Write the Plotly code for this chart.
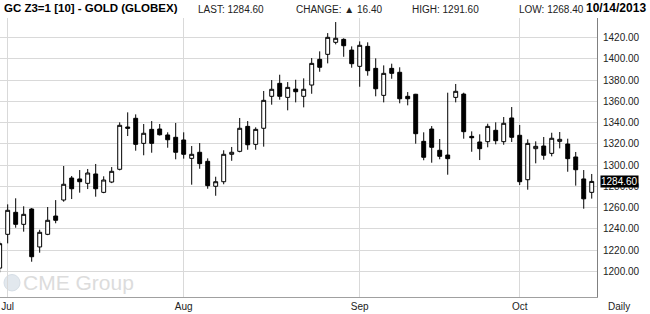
import pandas as pd
import plotly.graph_objects as go

# ---- data ----
dates = [d.strftime("%Y-%m-%d") for d in pd.bdate_range("2013-06-28", "2013-10-14")
         if d.strftime("%Y-%m-%d") not in ("2013-07-04", "2013-09-02")]

opens = [1203, 1234.8, 1255.5, 1244.2, 1258.6, 1222.9, 1234.8, 1252.0, 1267.1, 1287.8,
         1286.9, 1282.8, 1291.6, 1274.3, 1284.0, 1296.0, 1335.8, 1344.0, 1320.4, 1333.6,
         1333.9, 1328.3, 1326.1, 1323.6, 1306.3, 1312.0, 1303.5, 1280.0, 1284.3, 1310.1,
         1312.9, 1336.4, 1319.5, 1334.6, 1364.7, 1376.9, 1363.7, 1371.5, 1364.7, 1375.3,
         1399.5, 1404.2, 1415.5, 1418.3, 1408.2, 1392.9, 1411.7, 1391.0, 1365.6, 1391.0,
         1387.3, 1364.7, 1366.6, 1322.3, 1333.9, 1313.9, 1309.4, 1363.7, 1366.8, 1327.0,
         1321.7, 1322.0, 1332.7, 1322.0, 1344.3, 1328.0, 1286.2, 1315.4, 1317.9, 1311.0,
         1322.3, 1319.8, 1307.6, 1286.9, 1274.3]
highs = [1228, 1263.0, 1268.7, 1261.2, 1259.5, 1239.1, 1260.5, 1267.0, 1299.1, 1289.7,
         1295.3, 1296.3, 1301.0, 1289.4, 1298.1, 1340.2, 1349.6, 1347.7, 1338.6, 1341.4,
         1338.6, 1330.8, 1339.6, 1330.8, 1317.9, 1320.7, 1306.3, 1289.0, 1313.9, 1317.0,
         1344.3, 1341.4, 1335.5, 1369.7, 1380.0, 1385.0, 1378.1, 1380.3, 1381.6, 1400.7,
         1407.0, 1424.2, 1434.6, 1419.3, 1411.7, 1416.4, 1415.5, 1400.4, 1393.8, 1395.4,
         1392.0, 1368.7, 1367.0, 1330.8, 1336.7, 1324.5, 1368.1, 1376.3, 1368.1, 1331.7,
         1328.9, 1338.9, 1340.2, 1345.2, 1354.6, 1337.7, 1324.2, 1322.3, 1326.4, 1330.4,
         1331.1, 1324.8, 1312.3, 1295.3, 1291.6]
lows = [1199, 1226.3, 1241.0, 1237.3, 1209.0, 1217.5, 1234.0, 1245.2, 1265.5, 1268.0,
        1274.0, 1277.4, 1270.2, 1273.5, 1283.0, 1295.0, 1327.3, 1313.5, 1309.2, 1311.6,
        1327.8, 1316.3, 1305.4, 1306.0, 1281.5, 1296.5, 1277.7, 1271.1, 1281.9, 1304.0,
        1312.0, 1314.4, 1314.4, 1317.3, 1356.8, 1361.5, 1351.5, 1359.0, 1354.3, 1367.1,
        1387.8, 1395.7, 1413.6, 1401.9, 1391.6, 1373.7, 1384.1, 1364.7, 1359.0, 1381.2,
        1358.1, 1356.2, 1320.1, 1304.5, 1302.2, 1305.4, 1290.9, 1359.0, 1324.8, 1312.5,
        1304.7, 1316.7, 1319.5, 1319.1, 1321.7, 1281.2, 1276.8, 1301.6, 1305.0, 1308.2,
        1315.7, 1293.7, 1280.6, 1258.9, 1268.4]
closes = [1226, 1257.4, 1244.2, 1253.6, 1213.7, 1236.7, 1248.0, 1248.0, 1281.9, 1277.7,
          1284.3, 1292.5, 1277.7, 1285.9, 1294.1, 1337.4, 1334.6, 1319.5, 1329.9, 1320.4,
          1328.5, 1323.8, 1312.0, 1310.1, 1310.1, 1301.3, 1280.6, 1284.3, 1310.1, 1312.0,
          1334.6, 1319.1, 1333.6, 1360.9, 1371.3, 1364.7, 1373.1, 1369.0, 1371.3, 1395.7,
          1392.0, 1420.2, 1419.3, 1412.3, 1395.4, 1412.7, 1388.8, 1371.8, 1386.3, 1386.3,
          1362.4, 1362.4, 1329.5, 1307.3, 1316.7, 1308.2, 1306.0, 1369.4, 1331.4, 1325.7,
          1315.4, 1336.4, 1322.9, 1339.3, 1326.1, 1284.3, 1320.4, 1317.6, 1309.2, 1325.2,
          1324.2, 1306.0, 1295.6, 1268.2, 1284.6]

month_ticks = ["2013-07-01", "2013-08-01", "2013-09-03", "2013-10-01"]
month_labels = ["Jul", "Aug", "Sep", "Oct"]
y_ticks = [1200, 1220, 1240, 1260, 1280, 1300, 1320, 1340, 1360, 1380, 1400, 1420]

title_text = "GC Z3=1 [10] - GOLD (GLOBEX)"
last_price = 1284.60
change = 16.40
day_high = 1291.60
day_low = 1268.40
as_of = "10/14/2013"

assert len(dates) == len(opens) == len(highs) == len(lows) == len(closes)

FONT = "Liberation Sans, Arial, sans-serif"
GRID = "#d9d9d9"

fig = go.Figure(go.Candlestick(
    x=dates, open=opens, high=highs, low=lows, close=closes,
    increasing=dict(line=dict(color="black", width=1), fillcolor="white"),
    decreasing=dict(line=dict(color="black", width=1), fillcolor="black"),
    whiskerwidth=0, showlegend=False, hoverinfo="skip",
))

W, H = 650, 314
ml, mr, mt, mb = 0, 53, 18, 17
pw = W - ml - mr

fig.update_layout(
    width=W, height=H,
    margin=dict(l=ml, r=mr, t=mt, b=mb, pad=0),
    paper_bgcolor="white", plot_bgcolor="white",
    font=dict(family=FONT, size=10, color="#222"),
    showlegend=False,
)
fig.update_xaxes(
    type="category", range=[0.04, 74.66],
    tickvals=month_ticks, ticktext=month_labels, tickangle=0,
    showgrid=True, gridcolor=GRID, gridwidth=1,
    showline=True, linecolor="#a0a0a0", linewidth=1,
    ticks="", tickfont=dict(size=10, color="#222"),
    rangeslider=dict(visible=False), fixedrange=True,
)
fig.update_yaxes(
    side="right", range=[1175.8, 1438.4],
    tickvals=y_ticks, tickformat=".2f",
    showgrid=True, gridcolor=GRID, gridwidth=1,
    showline=True, linecolor="#808080", linewidth=1,
    ticks="", ticklabelstandoff=3, tickfont=dict(size=10, color="#222"),
    zeroline=False,
)

def px(xpix):
    return (xpix - ml) / pw

ann = []
ann.append(dict(text="<b>%s</b>" % title_text, x=px(2), y=1, yshift=10, xref="paper", yref="paper",
                xanchor="left", yanchor="middle", showarrow=False,
                font=dict(family=FONT, size=11.5, color="black")))
ann.append(dict(text="LAST: %.2f" % last_price, x=px(196), y=1, yshift=9, xref="paper", yref="paper",
                xanchor="left", yanchor="middle", showarrow=False, font=dict(size=10, color="#222")))
ann.append(dict(text="CHANGE: \u25b2 %.2f" % change, x=px(294), y=1, yshift=9, xref="paper", yref="paper",
                xanchor="left", yanchor="middle", showarrow=False, font=dict(size=10, color="#222")))
ann.append(dict(text="HIGH: %.2f" % day_high, x=px(410), y=1, yshift=9, xref="paper", yref="paper",
                xanchor="left", yanchor="middle", showarrow=False, font=dict(size=10, color="#222")))
ann.append(dict(text="LOW: %.2f" % day_low, x=px(517), y=1, yshift=9, xref="paper", yref="paper",
                xanchor="left", yanchor="middle", showarrow=False, font=dict(size=10, color="#222")))
ann.append(dict(text="<b>%s</b>" % as_of, x=px(648), y=1, yshift=10, xref="paper", yref="paper",
                xanchor="right", yanchor="middle", showarrow=False,
                font=dict(family=FONT, size=12, color="black")))
ann.append(dict(text="Daily", x=px(606), y=0, yshift=-9, xref="paper", yref="paper",
                xanchor="left", yanchor="middle", showarrow=False, font=dict(size=10, color="#222")))
# last-price marker on the axis
ann.append(dict(text="%.2f" % last_price, x=1, xshift=3, y=last_price, xref="paper", yref="y",
                xanchor="left", yanchor="middle", showarrow=False, bgcolor="black",
                borderpad=0, font=dict(size=10, color="white")))
# watermark
ann.append(dict(text="CME Group", x=px(21), y=1189.5, xref="paper", yref="y",
                xanchor="left", yanchor="middle", showarrow=False,
                font=dict(family=FONT, size=21, color="#dcdcdc")))
fig.update_layout(annotations=ann)

fig.add_shape(type="circle", xref="paper", yref="y", x0=px(4), x1=px(20),
              y0=1181.5, y1=1197.0, fillcolor="#e2e8ee", line=dict(color="#d6dee6", width=1),
              layer="below")

fig.write_html("out.html")
